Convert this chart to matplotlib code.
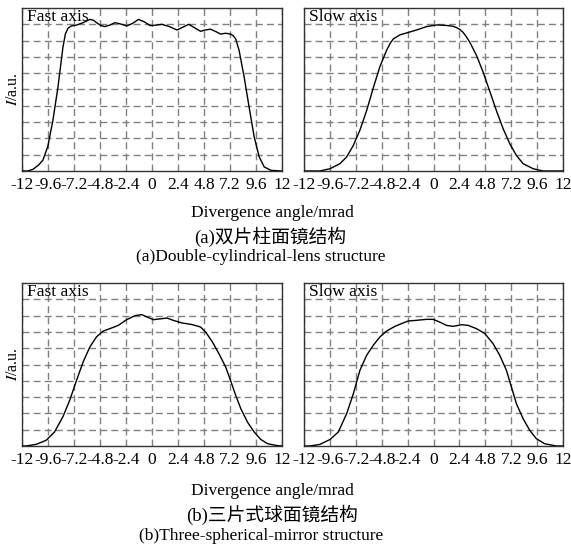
import matplotlib
matplotlib.use('Agg')
import matplotlib.pyplot as plt

plt.rcParams['font.family'] = ['Liberation Serif', 'Noto Sans CJK SC']
plt.rcParams['mathtext.fontset'] = 'stix'
plt.rcParams['axes.unicode_minus'] = False

# tick positions / labels shared by all panels
x_ticks = [-12, -9.6, -7.2, -4.8, -2.4, 0, 2.4, 4.8, 7.2, 9.6, 12]
x_labels = ['-12', '-9.6', '-7.2', '-4.8', '-2.4', '0', '2.4', '4.8', '7.2', '9.6', '12']
y_grid = [0.1, 0.2, 0.3, 0.4, 0.5, 0.6, 0.7, 0.8, 0.9]

# (a) double cylindrical lens - fast axis
fast_a_x = [-12.0, -11.47, -11.0, -10.5, -10.08, -9.62, -9.15, -8.69, -8.22, -8.0,
            -7.76, -7.45, -6.98, -6.36, -5.74, -5.4, -5.12, -4.7, -4.35, -3.9,
            -3.42, -2.9, -2.34, -1.8, -1.25, -0.7, -0.17, 0.4, 0.91, 1.6,
            2.31, 2.9, 3.39, 3.9, 4.48, 4.9, 5.40, 5.9, 6.33, 6.8,
            7.26, 7.5, 7.73, 8.04, 8.51, 8.97, 9.43, 9.90, 10.36, 10.98,
            11.91, 12.0]
fast_a_y = [0.0, 0.0, 0.01, 0.035, 0.065, 0.15, 0.31, 0.51, 0.76, 0.84,
            0.875, 0.89, 0.895, 0.91, 0.93, 0.925, 0.91, 0.892, 0.886, 0.895,
            0.91, 0.902, 0.89, 0.905, 0.93, 0.915, 0.892, 0.895, 0.90, 0.886,
            0.865, 0.884, 0.90, 0.88, 0.857, 0.865, 0.87, 0.855, 0.84, 0.845,
            0.84, 0.83, 0.81, 0.74, 0.575, 0.39, 0.21, 0.086, 0.025, 0.004,
            0.0, 0.0]

# (a) slow axis
slow_a_x = [-12.0, -10.52, -9.59, -8.67, -8.05, -7.43, -6.82, -6.20, -5.58, -4.97,
            -4.35, -4.0, -3.73, -3.12, -2.34, -1.57, -0.65, 0.28, 1.20, 1.8,
            2.13, 2.45, 2.75, 3.05, 3.36, 3.98, 4.60, 5.21, 5.83, 6.45,
            7.07, 7.68, 8.30, 9.23, 10.15, 12.0]
slow_a_y = [0.0, 0.0, 0.014, 0.045, 0.086, 0.157, 0.25, 0.37, 0.51, 0.64,
            0.74, 0.785, 0.81, 0.835, 0.85, 0.865, 0.886, 0.896, 0.893, 0.888,
            0.88, 0.868, 0.85, 0.823, 0.79, 0.71, 0.606, 0.49, 0.37, 0.26,
            0.167, 0.096, 0.045, 0.014, 0.0, 0.0]

# (b) three spherical mirror - fast axis
fast_b_x = [-12.0, -11.63, -10.70, -9.77, -9.00, -8.22, -7.60, -6.98, -6.36, -5.74,
            -5.12, -4.51, -3.73, -3.11, -2.34, -1.56, -0.94, -0.48, 0.14, 0.76,
            1.38, 2.00, 2.77, 3.70, 4.48, 4.94, 5.56, 6.18, 6.80, 7.26,
            7.73, 8.19, 8.81, 9.43, 10.05, 10.67, 11.60, 12.0]
fast_b_y = [0.0, 0.0, 0.01, 0.035, 0.086, 0.18, 0.28, 0.40, 0.515, 0.607,
            0.67, 0.705, 0.724, 0.74, 0.775, 0.80, 0.806, 0.792, 0.775, 0.78,
            0.785, 0.77, 0.755, 0.745, 0.73, 0.70, 0.64, 0.566, 0.485, 0.40,
            0.31, 0.23, 0.147, 0.086, 0.04, 0.014, 0.002, 0.0]

# (b) slow axis
slow_b_x = [-12.0, -11.44, -10.52, -9.59, -8.82, -8.05, -7.43, -6.82, -6.20, -5.58,
            -4.97, -4.35, -3.58, -2.81, -2.34, -1.57, -0.65, -0.03, 0.59, 1.20,
            1.82, 2.59, 3.21, 3.98, 4.75, 5.52, 6.14, 6.76, 7.22, 7.68,
            8.30, 8.92, 9.53, 10.30, 11.38, 12.0]
slow_b_y = [0.0, 0.0, 0.01, 0.04, 0.086, 0.198, 0.32, 0.464, 0.556, 0.618,
            0.669, 0.705, 0.734, 0.755, 0.767, 0.771, 0.777, 0.777, 0.76, 0.74,
            0.734, 0.744, 0.74, 0.72, 0.69, 0.628, 0.556, 0.464, 0.362, 0.26,
            0.168, 0.096, 0.045, 0.014, 0.0, 0.0]

W, H = 571, 552
fig = plt.figure(figsize=(W / 100, H / 100), dpi=100)


def panel(left, top, right, bottom, xs, ys, name, ylabel):
    ax = fig.add_axes([left / W, 1 - bottom / H, (right - left) / W, (bottom - top) / H])
    ax.plot(xs, ys, color='black', lw=1.0, zorder=3)
    ax.set_xlim(-12, 12)
    ax.set_ylim(0, 1)
    ax.set_xticks(x_ticks)
    ax.set_xticklabels(x_labels, fontsize=12.5)
    ax.set_yticks(y_grid)
    ax.set_yticklabels([])
    ax.tick_params(length=0, pad=4)
    ax.grid(True, color='#808080', lw=1.0, linestyle=(0, (5, 3)))
    for s in ax.spines.values():
        s.set_color('#333333')
        s.set_linewidth(1.0)
    ax.text(0.02, 0.995, name, transform=ax.transAxes, ha='left', va='top',
            fontsize=12.5, zorder=4)
    if ylabel:
        fig.text(13 / W, 1 - (top + bottom) / 2 / H, '$I$/a.u.', rotation=90,
                 ha='center', va='center', fontsize=11.5)
    return ax


panel(22, 8, 282, 171, fast_a_x, fast_a_y, 'Fast axis', True)
panel(304, 8, 563, 171, slow_a_x, slow_a_y, 'Slow axis', False)
panel(22, 283, 282, 446, fast_b_x, fast_b_y, 'Fast axis', True)
panel(304, 283, 563, 446, slow_b_x, slow_b_y, 'Slow axis', False)

captions = [
    (272, 213, 'Divergence angle/mrad', 12.5),
    (270, 237, '(a)双片柱面镜结构', 13.5),
    (261, 257, '(a)Double-cylindrical-lens structure', 12.5),
    (272, 491, 'Divergence angle/mrad', 12.5),
    (272, 515, '(b)三片式球面镜结构', 13.5),
    (261, 536, '(b)Three-spherical-mirror structure', 12.5),
]
for cx, cy, txt, fs in captions:
    fig.text(cx / W, 1 - cy / H, txt, ha='center', va='center', fontsize=fs)

fig.savefig('out.png', dpi=100)
